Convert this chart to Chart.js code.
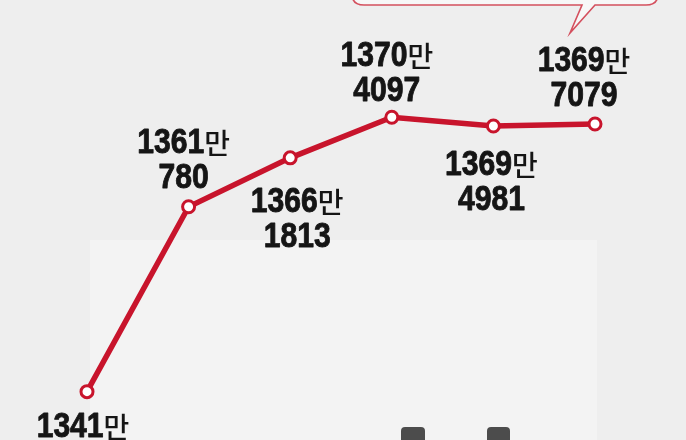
<!DOCTYPE html>
<html>
<head>
<meta charset="utf-8">
<script src="https://cdn.jsdelivr.net/npm/chart.js@4/dist/chart.umd.min.js"></script>
<style>
  html, body { margin: 0; padding: 0; background: #eeeeee; }
  #wrap { width: 686px; height: 440px; position: relative; }
</style>
</head>
<body>
<div id="wrap"><canvas id="c"></canvas></div>
<script>
// ---- data ----
const categories = ['1', '2', '3', '4', '5', '6'];
const values = [13418000, 13610780, 13661813, 13704097, 13694981, 13697079];
// label placement relative to each point
const labelSide = ['below', 'above', 'below', 'above', 'below', 'above'];

const RED = '#c8142c';

function splitMan(v) {
  return [String(Math.floor(v / 10000)), String(v % 10000)];
}

const background = {
  id: 'background',
  beforeDraw(chart) {
    const ctx = chart.ctx;
    ctx.save();
    ctx.fillStyle = '#eeeeee';
    ctx.fillRect(0, 0, chart.width, chart.height);
    ctx.fillStyle = '#f3f3f3';
    ctx.fillRect(90, 240, 507, 200);
    // speech bubble (cut at top)
    ctx.beginPath();
    ctx.moveTo(352, -12);
    ctx.lineTo(352, -6);
    ctx.quadraticCurveTo(352, 5, 364, 5);
    ctx.lineTo(582, 5);
    ctx.lineTo(570, 33);
    ctx.lineTo(595, 5);
    ctx.lineTo(646, 5);
    ctx.quadraticCurveTo(658, 5, 658, -6);
    ctx.lineTo(658, -12);
    ctx.closePath();
    ctx.fillStyle = '#f7f7f7';
    ctx.fill();
    ctx.strokeStyle = '#d4505e';
    ctx.lineWidth = 1.6;
    ctx.stroke();
    // tops of bars from the section below (cut off)
    ctx.fillStyle = '#4c4c4c';
    [[401, 24], [487, 23]].forEach(([x, w]) => {
      ctx.beginPath();
      ctx.roundRect(x, 427, w, 30, [4, 4, 0, 0]);
      ctx.fill();
    });
    ctx.restore();
  }
};

const labelOffsets = {
  dx: [-4, -5, 7, -5, -2, -11],
  dy: [45, -19, 54, -16, 49, -18]
};

const valueLabels = {
  id: 'valueLabels',
  afterDatasetsDraw(chart) {
    const ctx = chart.ctx;
    const meta = chart.getDatasetMeta(0);
    const numFont = 'bold 35px "Liberation Sans", Arial, sans-serif';
    const manFont = '500 28px "Noto Sans CJK KR", sans-serif';
    const sx = 0.86;
    const pitch = 35;
    ctx.save();
    ctx.fillStyle = '#151515';
    ctx.strokeStyle = '#151515';
    ctx.lineWidth = 0.9;
    ctx.lineJoin = 'round';
    ctx.textBaseline = 'alphabetic';
    meta.data.forEach((pt, i) => {
      const [top, bottom] = splitMan(values[i]);
      const cx = pt.x + labelOffsets.dx[i];
      let b1, b2;
      if (labelSide[i] === 'above') {
        b2 = pt.y + labelOffsets.dy[i];
        b1 = b2 - pitch;
      } else {
        b1 = pt.y + labelOffsets.dy[i];
        b2 = b1 + pitch;
      }
      // line 1: digits + 만
      ctx.font = numFont;
      const w1 = ctx.measureText(top).width * sx;
      ctx.font = manFont;
      const wm = ctx.measureText('만').width;
      const total = w1 + wm;
      const x0 = cx - total / 2;
      ctx.font = numFont;
      ctx.save();
      ctx.translate(x0, b1);
      ctx.scale(sx, 1);
      ctx.textAlign = 'left';
      ctx.fillText(top, 0, 0);
      ctx.strokeText(top, 0, 0);
      ctx.restore();
      ctx.font = manFont;
      ctx.textAlign = 'left';
      ctx.fillText('만', x0 + w1, b1 + 1);
      // line 2
      ctx.font = numFont;
      ctx.save();
      ctx.translate(cx, b2);
      ctx.scale(sx, 1);
      ctx.textAlign = 'center';
      ctx.fillText(bottom, 0, 0);
      ctx.strokeText(bottom, 0, 0);
      ctx.restore();
    });
    ctx.restore();
  }
};

new Chart(document.getElementById('c'), {
  type: 'line',
  data: {
    labels: categories,
    datasets: [{
      data: values,
      borderColor: RED,
      borderWidth: 5.5,
      pointRadius: 6,
      pointBorderWidth: 3,
      pointBackgroundColor: '#ffffff',
      pointBorderColor: RED,
      tension: 0,
      clip: false
    }]
  },
  options: {
    responsive: true,
    maintainAspectRatio: false,
    animation: false,
    layout: { padding: { left: 87, right: 91, top: 0, bottom: 0 } },
    plugins: { legend: { display: false }, tooltip: { enabled: false } },
    scales: {
      x: { display: false, offset: false },
      y: { display: false, min: 13377000, max: 13817000 }
    }
  },
  plugins: [background, valueLabels]
});
</script>
</body>
</html>
